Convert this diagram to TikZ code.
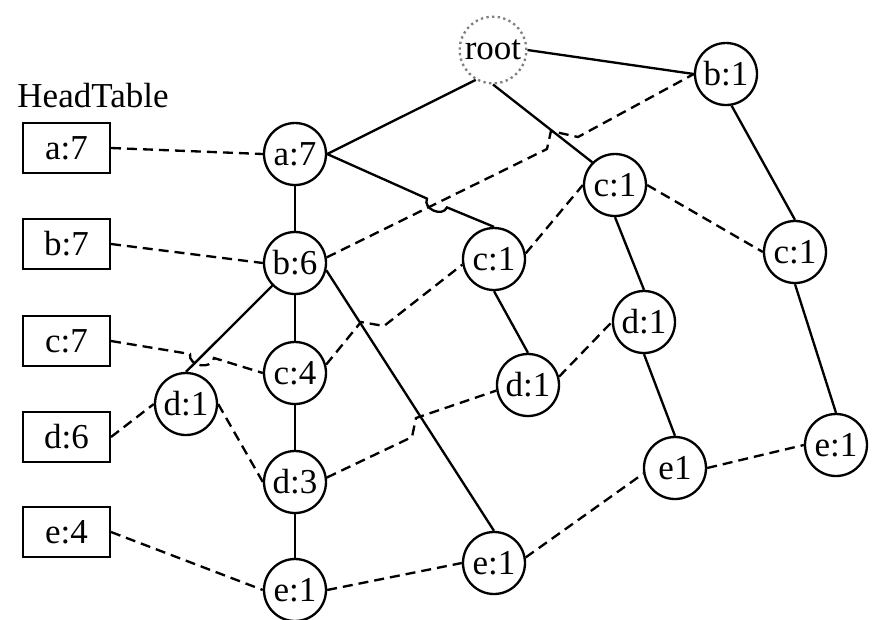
\documentclass[tikz,border=0pt]{standalone}
\usepackage{fontspec}
\setmainfont{Liberation Serif}

\begin{document}
\begin{tikzpicture}[x=0.3pt,y=0.3pt,yscale=-1,xscale=1,font=\fontsize{10.5}{13}\selectfont,
   	fpnode/.style={draw,circle,line width=0.7pt,minimum size=18.6pt,inner sep=0pt},
   	headbox/.style={draw,rectangle,line width=0.7pt,minimum width=26pt,minimum height=15pt,inner sep=0pt},
   	treeedge/.style={line width=0.7pt},
   	linkedge/.style={line width=0.7pt,dash pattern=on 3pt off 1.8pt}]
   	%set diagram size to 872 x 620
   	\useasboundingbox (0,0) rectangle (872,620);
   	
   	% head table
   	\node (headlbl) at (93,96) {HeadTable};
   	\node[headbox] (ha) at (66.5,148) {a:7};
   	\node[headbox] (hb) at (66.5,244) {b:7};
   	\node[headbox] (hc) at (66.5,341) {c:7};
   	\node[headbox] (hd) at (66.5,437) {d:6};
   	\node[headbox] (he) at (66.5,532) {e:4};
   	
   	% tree nodes
   	\node[fpnode,draw=gray,densely dotted,minimum size=20pt] (root) at (493,50) {root};
   	\node[fpnode] (b1) at (726,74) {b:1};
   	\node[fpnode] (a7) at (295,154) {a:7};
   	\node[fpnode] (b6) at (295,263) {b:6};
   	\node[fpnode] (c4) at (295,373) {c:4};
   	\node[fpnode] (d3) at (295,482) {d:3};
   	\node[fpnode] (e1b) at (295,590) {e:1};
   	\node[fpnode] (d1l) at (186,404) {d:1};
   	\node[fpnode] (c1m) at (494,259) {c:1};
   	\node[fpnode] (d1m) at (528,385) {d:1};
   	\node[fpnode] (e1m) at (494,563) {e:1};
   	\node[fpnode] (c1u) at (615,185) {c:1};
   	\node[fpnode] (d1u) at (644,322) {d:1};
   	\node[fpnode] (e1u) at (675,468) {e1};
   	\node[fpnode] (c1r) at (795,252) {c:1};
   	\node[fpnode] (e1r) at (836,445) {e:1};
   	
   	% points where links jump over edges
   	\coordinate (hopa1) at (427,198.6);
   	\coordinate (hopa2) at (447,207.4);
   	\coordinate (jb1) at (547,149);
   	\coordinate (jb2) at (551,131);
   	\coordinate (jb3) at (578,137);
   	\coordinate (hopc1) at (190,354);
   	\coordinate (hopc2) at (214,358);
   	\coordinate (jc1) at (361,322);
   	\coordinate (jc2) at (384,326);
   	\coordinate (jd1) at (412,437);
   	\coordinate (jd2) at (416,418);
   	
   	% tree edges
   	\draw[treeedge] (root.240) -- (a7.east);
   	\draw[treeedge] (root.south) -- (c1u.north west);
   	\draw[treeedge] (root.east) -- (b1.west);
   	\draw[treeedge] (a7) -- (b6);
   	\draw[treeedge] (a7.east) -- (hopa1) to[bend left=90,looseness=1.3] (hopa2) -- (c1m.north);
   	\draw[treeedge] (b6) -- (c4);
   	\draw[treeedge] (c4) -- (d3);
   	\draw[treeedge] (d3) -- (e1b);
   	\draw[treeedge] (b6.south west) -- (d1l.north);
   	\draw[treeedge] (b6.-13) -- (e1m.north);
   	\draw[treeedge] (c1m.south) -- (d1m.north);
   	\draw[treeedge] (c1u.south) -- (d1u.north);
   	\draw[treeedge] (d1u.south) -- (e1u.north);
   	\draw[treeedge] (b1.-80) -- (c1r.north);
   	\draw[treeedge] (c1r.south) -- (e1r.north);
   	
   	% node links
   	\draw[linkedge] (ha.east) -- (a7.west);
   	\draw[linkedge] (hb.east) -- (b6.west);
   	\draw[linkedge] (b6.10) -- (jb1) -- (jb2) -- (jb3) -- (b1.west);
   	\draw[linkedge] (hc.east) -- (hopc1) to[bend left=90,looseness=1.3] (hopc2) -- (c4.west);
   	\draw[linkedge] (c4.15) -- (jc1) -- (jc2) -- (c1m.190);
   	\draw[linkedge] (c1m.10) -- (c1u.west);
   	\draw[linkedge] (c1u.east) -- (c1r.west);
   	\draw[linkedge] (hd.east) -- (d1l.west);
   	\draw[linkedge] (d1l.east) -- (d3.west);
   	\draw[linkedge] (d3.8) -- (jd1) -- (jd2) -- (d1m.190);
   	\draw[linkedge] (d1m.15) -- (d1u.west);
   	\draw[linkedge] (he.east) -- (e1b.west);
   	\draw[linkedge] (e1b.east) -- (e1m.west);
   	\draw[linkedge] (e1m.10) -- (e1u.190);
   	\draw[linkedge] (e1u.east) -- (e1r.west);
   	
   	\end{tikzpicture}
\end{document}
